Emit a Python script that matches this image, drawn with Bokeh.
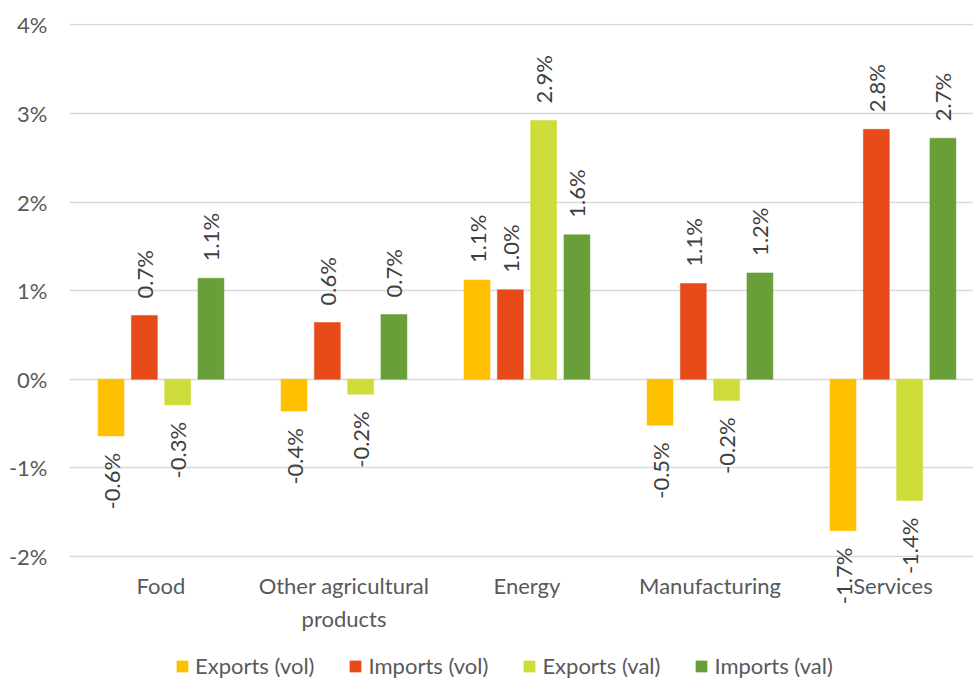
import math
from bokeh.plotting import figure
from bokeh.models import (ColumnDataSource, Range1d, FixedTicker, PrintfTickFormatter,
                          Legend, LegendItem)
from bokeh.core.properties import value
from bokeh.embed import file_html
from bokeh.resources import INLINE

# ---- data ----
categories = ["Food", "Other agricultural\nproducts", "Energy", "Manufacturing", "Services"]
series_names = ["Exports (vol)", "Imports (vol)", "Exports (val)", "Imports (val)"]
exports_vol = [-0.64, -0.36, 1.12, -0.52, -1.71]
imports_vol = [0.72, 0.64, 1.01, 1.08, 2.82]
exports_val = [-0.29, -0.17, 2.92, -0.24, -1.37]
imports_val = [1.14, 0.73, 1.63, 1.20, 2.72]
y_ticks = [-2, -1, 0, 1, 2, 3, 4]

series = [exports_vol, imports_vol, exports_val, imports_val]
colors = ["#FFC000", "#E64A19", "#CDDC39", "#689F38"]
offsets = [-0.273, -0.091, 0.091, 0.273]
bar_w = 0.142

FONT = "Lato"
FS = "22px"

p = figure(width=973, height=680, output_backend="svg", toolbar_location=None,
           x_range=Range1d(0, 4.94), y_range=Range1d(-3.4007, 4.0147),
           min_border_left=69, min_border_right=0, min_border_top=23,
           min_border_bottom=0)
p.outline_line_color = None
p.xgrid.grid_line_color = None
p.ygrid.grid_line_color = "#d9d9d9"
p.ygrid.grid_line_width = 1.3
p.background_fill_color = "white"
p.border_fill_color = "white"

# y axis
p.yaxis.ticker = FixedTicker(ticks=y_ticks)
p.ygrid.ticker = FixedTicker(ticks=y_ticks)
p.yaxis.formatter = PrintfTickFormatter(format="%d%%")
p.yaxis.axis_line_color = None
p.yaxis.major_tick_line_color = None
p.yaxis.minor_tick_line_color = None
p.yaxis.major_tick_out = 0
p.yaxis.major_label_standoff = 22
p.yaxis.major_label_text_font = FONT
p.yaxis.major_label_text_font_size = FS
p.yaxis.major_label_text_color = "#595959"

# x axis (category labels), drawn just under the lowest gridline
centers = [i + 0.5 for i in range(len(categories))]
p.xaxis.fixed_location = y_ticks[0]
p.xaxis.ticker = FixedTicker(ticks=centers)
p.xaxis.major_label_overrides = {c: name for c, name in zip(centers, categories)}
p.xaxis.axis_line_color = None
p.xaxis.major_tick_line_color = None
p.xaxis.minor_tick_line_color = None
p.xaxis.major_tick_out = 0
p.xaxis.major_tick_in = 0
p.xaxis.major_label_standoff = 16
p.xaxis.major_label_text_font = FONT
p.xaxis.major_label_text_font_size = FS
p.xaxis.major_label_text_color = "#595959"

items = []
for name, vals, col, off in zip(series_names, series, colors, offsets):
    xs = [c + off for c in centers]
    src = ColumnDataSource(dict(x=xs, top=vals))
    r = p.vbar(x="x", top="top", bottom=0, width=bar_w, source=src,
               fill_color=col, line_color=col, line_width=0.5)
    items.append(LegendItem(label=name, renderers=[r]))

    pos = [(x, v, f"{v:.1f}%") for x, v in zip(xs, vals) if v >= 0]
    neg = [(x, v, f"{v:.1f}%") for x, v in zip(xs, vals) if v < 0]
    if pos:
        sp = ColumnDataSource(dict(x=[a[0] for a in pos], y=[a[1] for a in pos],
                                   t=[a[2] for a in pos]))
        p.text(x="x", y="y", text="t", source=sp, angle=math.pi / 2,
               text_align="left", text_baseline="middle", y_offset=-17,
               text_font=value(FONT), text_font_size=FS, text_color="#404040")
    if neg:
        sn = ColumnDataSource(dict(x=[a[0] for a in neg], y=[a[1] for a in neg],
                                   t=[a[2] for a in neg]))
        p.text(x="x", y="y", text="t", source=sn, angle=math.pi / 2,
               text_align="right", text_baseline="middle", y_offset=17,
               text_font=value(FONT), text_font_size=FS, text_color="#404040")

legend = Legend(items=items, orientation="horizontal", location=(106, 1),
                glyph_width=14, glyph_height=14, label_standoff=6, spacing=34,
                padding=0, margin=0, border_line_color=None,
                background_fill_alpha=0,
                label_text_font=FONT, label_text_font_size=FS,
                label_text_color="#595959")
p.add_layout(legend, "center")

open("out.html", "w").write(file_html(p, INLINE))
